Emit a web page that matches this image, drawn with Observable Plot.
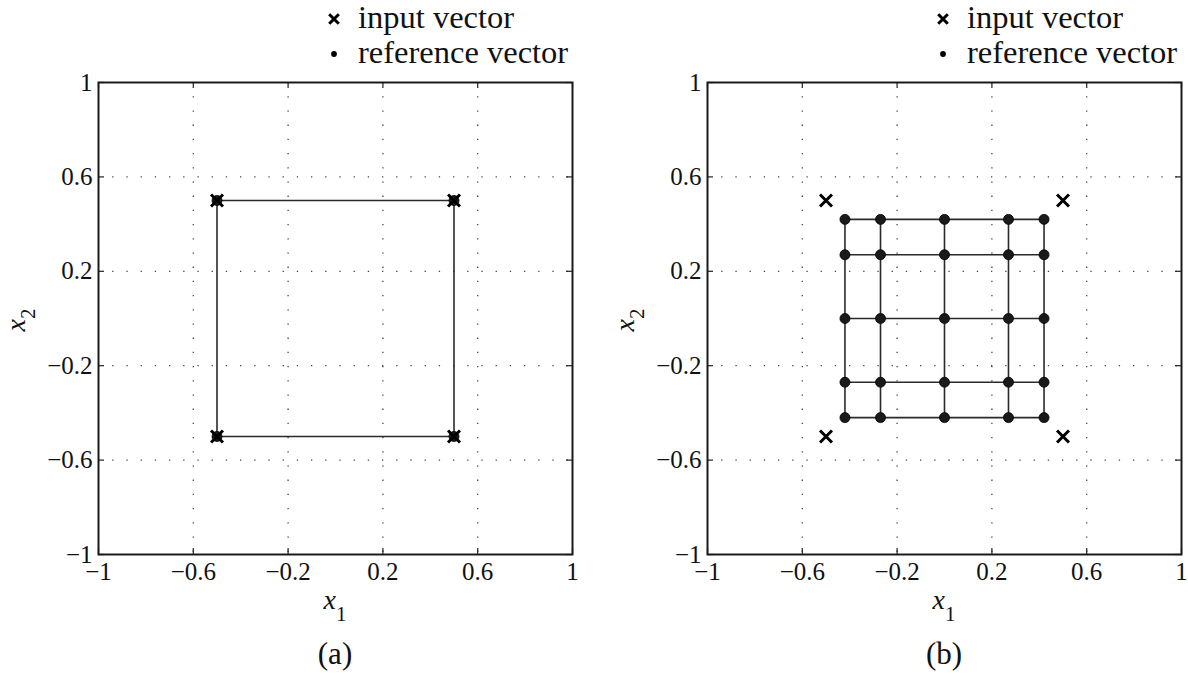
<!DOCTYPE html>
<html><head><meta charset="utf-8">
<script src="https://cdn.jsdelivr.net/npm/d3@7"></script>
<script src="https://cdn.jsdelivr.net/npm/@observablehq/plot@0.6"></script>
<style>
html,body{margin:0;padding:0;background:#fff;}
#fig{position:relative;width:1188px;height:677px;overflow:hidden;font-family:"Liberation Serif","Times New Roman",serif;}
#fig > svg{position:absolute;top:0;}
#fig svg, #fig svg text{font-family:"Liberation Serif","Times New Roman",serif !important;}
</style></head><body><div id="fig"></div>
<script>
// ---- data ----
const axisTicks = [-1, -0.6, -0.2, 0.2, 0.6, 1];
const tickLabels = ["−1", "−0.6", "−0.2", "0.2", "0.6", "1"];
const gridTicks = [-0.6, -0.2, 0.2, 0.6];
const inputX = [-0.5, 0.5, 0.5, -0.5];
const inputY = [0.5, 0.5, -0.5, -0.5];
const refAX = [-0.5, 0.5, 0.5, -0.5];
const refAY = [0.5, 0.5, -0.5, -0.5];
const refBLevels = [-0.42, -0.27, 0, 0.27, 0.42];
const legendLabels = ["input vector", "reference vector"];
const captions = ["(a)", "(b)"];

const inputPts = inputX.map((x, i) => ({x, y: inputY[i]}));
const refAPts = refAX.map((x, i) => ({x, y: refAY[i]}));
const refAPath = [...refAPts, refAPts[0]];
const refBPts = [];
for (const y of refBLevels) for (const x of refBLevels) refBPts.push({x, y});

const W = 594, H = 677, MT = 82, MB = 123;
const FONT = "Liberation Serif";
const fmt = d => tickLabels[axisTicks.indexOf(d)];

function panel(refPts, lineMarks, ml, mr) {
  const fw = W - ml - mr, fh = H - MT - MB;
  const dots = {stroke: "#444", strokeWidth: 1.3, strokeDasharray: "1.3,12.9"};
  const tk = {stroke: "#222", strokeWidth: 1.2};
  return Plot.plot({
    width: W, height: H,
    marginLeft: ml, marginRight: mr, marginTop: MT, marginBottom: MB,
    x: {domain: [-1, 1]}, y: {domain: [-1, 1]},
    style: {fontFamily: FONT, fontSize: "25px", color: "#111", background: "transparent", overflow: "visible"},
    marks: [
      Plot.ruleX(gridTicks, {x: d => d, ...dots}),
      Plot.ruleY(gridTicks, {y: d => d, ...dots}),
      Plot.tickX(axisTicks, {x: d => d, insetTop: fh - 6, ...tk}),
      Plot.tickX(axisTicks, {x: d => d, insetBottom: fh - 6, ...tk}),
      Plot.tickY(axisTicks, {y: d => d, insetRight: fw - 6, ...tk}),
      Plot.tickY(axisTicks, {y: d => d, insetLeft: fw - 6, ...tk}),
      ...lineMarks,
      Plot.dot(refPts, {x: "x", y: "y", r: 5, fill: "#1a1a1a", stroke: "#000", strokeWidth: 0.8}),
      Plot.dot(inputPts, {x: "x", y: "y", symbol: "times", r: 5.5, stroke: "#000", strokeWidth: 3}),
      Plot.axisX(axisTicks, {anchor: "bottom", tickSize: 0, tickPadding: 8, tickFormat: fmt, label: null, fontSize: 25, fontFamily: FONT, fill: "#111"}),
      Plot.axisY(axisTicks, {anchor: "left", tickSize: 0, tickPadding: 6, tickFormat: fmt, label: null, fontSize: 25, fontFamily: FONT, fill: "#111"}),
      Plot.frame({stroke: "#1a1a1a", strokeWidth: 2})
    ]
  });
}

const lineStyle = {stroke: "#2a2a2a", strokeWidth: 1.6};
const pa = panel(refAPts, [Plot.line(refAPath, {x: "x", y: "y", ...lineStyle})], 98, 22);
const pb = panel(refBPts, [
  Plot.line(refBPts, {x: "x", y: "y", z: "y", ...lineStyle}),
  Plot.line(refBPts, {x: "x", y: "y", z: "x", ...lineStyle})
], 113, 7);

const fig = document.getElementById("fig");
pa.style.left = "0px";
pb.style.left = "594px";
fig.appendChild(pa);
fig.appendChild(pb);

// ---- overlay: legends, axis labels, captions ----
const ov = d3.create("svg").attr("width", 1188).attr("height", 677)
  .style("position", "absolute").style("left", "0px").style("top", "0px");

[0, 609].forEach((off, i) => {
  const g = ov.append("g").attr("transform", `translate(${off},0)`);
  const cx = 334, cy = 19, s = 4.8;
  g.append("path").attr("d", `M${cx - s},${cy - s}L${cx + s},${cy + s}M${cx - s},${cy + s}L${cx + s},${cy - s}`)
    .attr("stroke", "#000").attr("stroke-width", 3).attr("fill", "none");
  g.append("circle").attr("cx", cx).attr("cy", 54).attr("r", 2.9).attr("fill", "#000");
  g.append("text").attr("x", 358).attr("y", 28).attr("font-size", 32.5).attr("fill", "#111").text(legendLabels[0]);
  g.append("text").attr("x", 358).attr("y", 63).attr("font-size", 32.5).attr("fill", "#111").text(legendLabels[1]);
  const xl = g.append("text").attr("x", i === 0 ? 335 : 944 - off).attr("y", 609).attr("text-anchor", "middle").attr("font-size", 28).attr("fill", "#111");
  xl.append("tspan").attr("font-style", "italic").text("x");
  xl.append("tspan").attr("font-size", 21).attr("dy", 12).text("1");
  g.append("text").attr("x", i === 0 ? 335 : 944 - off).attr("y", 664).attr("text-anchor", "middle").attr("font-size", 31).attr("fill", "#111").text(captions[i]);
});
[25, 25 + 609].forEach(x => {
  const yl = ov.append("text").attr("transform", `translate(${x},320) rotate(-90)`).attr("text-anchor", "middle").attr("font-size", 28).attr("fill", "#111");
  yl.append("tspan").attr("font-style", "italic").text("x");
  yl.append("tspan").attr("font-size", 21).attr("dy", 10).text("2");
});
fig.appendChild(ov.node());
</script></body></html>
